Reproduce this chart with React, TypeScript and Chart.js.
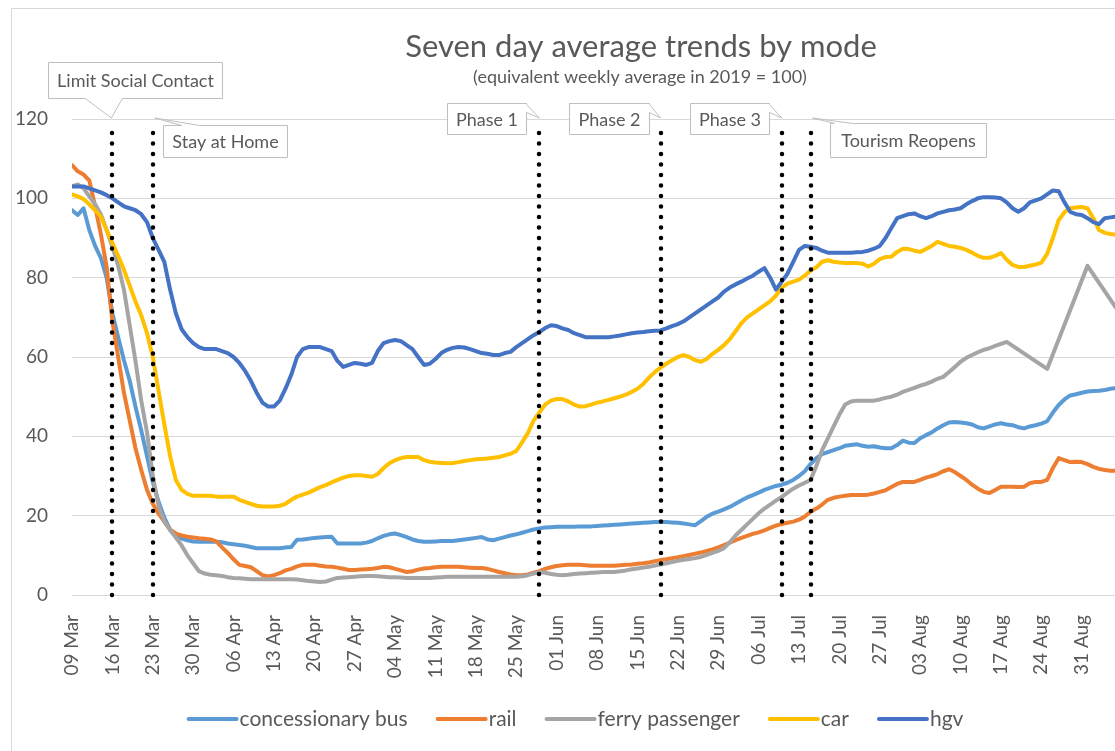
import React, { useEffect, useRef } from 'react';
import { Chart, registerables } from 'chart.js';

Chart.register(...registerables);

// ---------- DATA ----------
// x = days since 09 Mar 2020 (daily seven-day averages, 2019 equivalent week = 100)
const TICK_DAYS = [0, 7, 14, 21, 28, 35, 42, 49, 56, 63, 70, 77, 84, 91, 98, 105, 112, 119, 126, 133, 140, 147, 154, 161, 168, 175];
const TICK_LABELS = ['09 Mar', '16 Mar', '23 Mar', '30 Mar', '06 Apr', '13 Apr', '20 Apr', '27 Apr', '04 May', '11 May', '18 May', '25 May', '01 Jun', '08 Jun', '15 Jun', '22 Jun', '29 Jun', '06 Jul', '13 Jul', '20 Jul', '27 Jul', '03 Aug', '10 Aug', '17 Aug', '24 Aug', '31 Aug'];
const Y_TICKS = [0, 20, 40, 60, 80, 100, 120];

const SERIES_LABELS = ['concessionary bus', 'rail', 'ferry passenger', 'car', 'hgv'];

const BUS = [
  97, 95.8, 97.5, 92, 88, 85, 80,
  71, 65, 59.2, 54, 47.5, 41.5, 35,
  28.5, 23.5, 19.5, 16.4, 15, 14.2, 13.8,
  13.5, 13.4, 13.4, 13.4, 13.4, 13.3, 13,
  12.8, 12.6, 12.4, 12.1, 11.8, 11.8, 11.8,
  11.8, 11.8, 12, 12.1, 13.9, 14, 14.2,
  14.4, 14.5, 14.6, 14.7, 13, 13, 13,
  13, 13, 13.2, 13.6, 14.3, 14.9, 15.3,
  15.5, 15.1, 14.6, 14, 13.6, 13.4, 13.4,
  13.5, 13.6, 13.6, 13.6, 13.8, 14, 14.2,
  14.4, 14.6, 14, 13.8, 14.2, 14.6, 15,
  15.3, 15.7, 16.1, 16.5, 16.8, 17, 17.1,
  17.2, 17.2, 17.2, 17.2, 17.3, 17.3, 17.3,
  17.4, 17.5, 17.6, 17.7, 17.8, 17.9, 18,
  18.1, 18.2, 18.3, 18.4, 18.4, 18.4, 18.3,
  18.2, 18, 17.8, 17.6, 18.6, 19.7, 20.5,
  21, 21.6, 22.2, 23, 23.8, 24.6, 25.2,
  25.8, 26.5, 27, 27.5, 27.8, 28.3, 29,
  30, 31.2, 33, 34.5, 35.5, 36, 36.5,
  37, 37.6, 37.8, 38, 37.6, 37.4, 37.5,
  37.2, 37, 37, 37.8, 38.9, 38.4, 38.3,
  39.5, 40.3, 41, 42, 42.8, 43.5, 43.6,
  43.5, 43.3, 43, 42.3, 42, 42.5, 43,
  43.3, 43, 42.8, 42.3, 42, 42.5, 42.8,
  43.2, 43.8, 46, 47.9, 49.3, 50.3, 50.6,
  51, 51.3, 51.4, 51.5, 51.7, 52, 52.2,
  52.2,
];

const RAIL = [
  108.4, 106.8, 106, 104.5, 98, 91, 82.7,
  69, 60, 51, 44, 37, 31.5, 26.5,
  23, 20.5, 18.5, 16.5, 15.5, 15, 14.7,
  14.5, 14.3, 14.2, 14, 13.5, 12, 10.6,
  9, 7.6, 7.3, 7, 6, 5, 4.7,
  5, 5.5, 6.2, 6.6, 7.2, 7.6, 7.6,
  7.6, 7.4, 7.2, 7.1, 6.9, 6.6, 6.3,
  6.3, 6.4, 6.5, 6.6, 6.8, 7.1, 7,
  6.6, 6.2, 5.8, 6, 6.4, 6.7, 6.8,
  7, 7.1, 7.1, 7.1, 7.1, 7, 6.9,
  6.8, 6.8, 6.6, 6.2, 5.8, 5.5, 5.2,
  5, 5, 5.2, 5.6, 6, 6.6, 7,
  7.3, 7.5, 7.6, 7.6, 7.6, 7.5, 7.4,
  7.4, 7.4, 7.4, 7.4, 7.5, 7.6, 7.7,
  7.9, 8, 8.2, 8.5, 8.8, 9, 9.3,
  9.5, 9.8, 10.1, 10.4, 10.7, 11.1, 11.5,
  12, 12.6, 13.2, 13.8, 14.4, 14.9, 15.4,
  15.8, 16.3, 16.9, 17.5, 17.9, 18.2, 18.5,
  19, 19.8, 21, 21.8, 22.8, 24, 24.5,
  24.8, 25, 25.2, 25.2, 25.2, 25.3, 25.6,
  26, 26.4, 27.2, 28, 28.5, 28.5, 28.5,
  29, 29.6, 30, 30.5, 31.2, 31.7, 31,
  30, 29, 27.8, 26.8, 26, 25.7, 26.5,
  27.3, 27.3, 27.3, 27.2, 27.3, 28.2, 28.5,
  28.5, 29, 32, 34.5, 34, 33.5, 33.6,
  33.5, 33, 32.3, 31.8, 31.5, 31.3, 31.3,
  31.2,
];

const FERRY = [
  103, 103.5, 102.5, 100.5, 98.5, 96, 92,
  87.8, 83, 77, 68, 59, 49, 41,
  30, 22.5, 18.5, 16.4, 14.5, 12.5, 10,
  8, 6, 5.4, 5.1, 5, 4.8, 4.5,
  4.3, 4.2, 4.1, 4, 4, 4, 4,
  4, 4, 4, 4, 3.9, 3.7, 3.5,
  3.4, 3.3, 3.4, 3.9, 4.3, 4.4, 4.5,
  4.6, 4.7, 4.8, 4.8, 4.7, 4.6, 4.5,
  4.5, 4.4, 4.3, 4.3, 4.3, 4.3, 4.3,
  4.4, 4.5, 4.6, 4.6, 4.6, 4.6, 4.6,
  4.6, 4.6, 4.6, 4.6, 4.6, 4.6, 4.6,
  4.6, 4.7, 5, 5.4, 5.8, 5.6, 5.3,
  5.1, 5, 5.1, 5.3, 5.4, 5.5, 5.6,
  5.7, 5.8, 5.8, 5.8, 6, 6.2, 6.5,
  6.7, 6.9, 7.1, 7.4, 7.7, 8, 8.3,
  8.6, 8.9, 9.1, 9.3, 9.6, 10.1, 10.6,
  11.1, 11.8, 13.3, 15, 16.4, 17.8, 19.2,
  20.6, 21.8, 22.8, 23.8, 24.7, 25.8, 26.8,
  27.6, 28.3, 29, 32.5, 36.5, 39.5, 42.5,
  45.5, 48, 48.8, 49, 49, 49, 49,
  49.3, 49.7, 50, 50.5, 51.2, 51.7, 52.2,
  52.8, 53.2, 53.8, 54.5, 55, 56.2, 57.5,
  58.8, 59.8, 60.5, 61.2, 61.8, 62.2, 62.8,
  63.3, 63.8, null, null, null, null, null,
  null, 57, null, null, null, null, null,
  null, 83, null, null, null, null, null,
  null, 68,
];

const CAR = [
  101, 100.5, 99.8, 98.5, 97, 95.4, 92,
  88.7, 85.5, 82, 78, 74, 70.5, 66,
  60, 51.5, 43, 35, 29, 26.5, 25.5,
  25, 25, 25, 25, 24.8, 24.8, 24.8,
  24.8, 24, 23.5, 23, 22.5, 22.3, 22.3,
  22.3, 22.5, 23, 24, 24.8, 25.3, 25.8,
  26.5, 27.2, 27.7, 28.4, 29, 29.6, 30,
  30.2, 30.2, 30, 29.8, 30.5, 32, 33.2,
  34, 34.5, 34.8, 34.8, 34.8, 34, 33.6,
  33.4, 33.3, 33.2, 33.3, 33.5, 33.8, 34,
  34.2, 34.3, 34.4, 34.6, 34.8, 35.2, 35.6,
  36.3, 38.5, 40.8, 44, 46, 48, 49,
  49.4, 49.4, 48.8, 48, 47.5, 47.6, 48,
  48.5, 48.8, 49.2, 49.6, 50, 50.5, 51.2,
  52, 53.2, 54.8, 56.2, 57.3, 58.3, 59.2,
  60, 60.5, 60, 59.2, 58.8, 59.5, 60.8,
  61.8, 63, 64.5, 66.5, 68.5, 70, 71,
  72, 73, 74, 75.5, 77.5, 78.5, 79,
  79.5, 80.5, 81.8, 82.6, 84, 84.4, 84,
  83.8, 83.7, 83.7, 83.7, 83.5, 82.8, 83.5,
  84.7, 85.2, 85.3, 86.5, 87.3, 87.2, 86.8,
  86.5, 87.2, 88, 89, 88.5, 88, 87.8,
  87.5, 87, 86.3, 85.5, 85, 85, 85.5,
  86.2, 84.5, 83.2, 82.7, 82.7, 83, 83.3,
  83.8, 86, 90, 94.5, 96.5, 97.5, 97.7,
  97.8, 97.5, 95, 92, 91.3, 91, 90.8,
  90.8,
];

const HGV = [
  103, 103, 103, 102.5, 102, 101.5, 100.8,
  100, 99, 98, 97.5, 97, 96, 94,
  90, 87, 84, 77, 71, 67, 65,
  63.5, 62.5, 62, 62, 62, 61.5, 61,
  60, 58.5, 56.5, 54, 51, 48.5, 47.5,
  47.5, 49, 52, 55.5, 60, 62, 62.5,
  62.5, 62.5, 62, 61.5, 59, 57.5, 58,
  58.5, 58.3, 58, 58.5, 61.5, 63.5, 64,
  64.3, 64, 63, 62, 60, 58, 58.3,
  59.5, 61, 61.8, 62.3, 62.5, 62.4, 62,
  61.5, 61, 60.8, 60.5, 60.5, 61, 61.3,
  62.5, 63.5, 64.5, 65.5, 66.3, 67.3, 68,
  67.8, 67.2, 66.8, 66, 65.5, 65, 65,
  65, 65, 65, 65.2, 65.4, 65.7, 66,
  66.2, 66.3, 66.5, 66.6, 66.7, 67.2, 67.8,
  68.3, 69, 70, 71, 72, 73, 74,
  75, 76.5, 77.5, 78.3, 79, 79.8, 80.5,
  81.5, 82.4, 80, 77, 79, 81, 84,
  87, 88, 87.8, 87.5, 86.8, 86.3, 86.3,
  86.3, 86.3, 86.3, 86.4, 86.5, 86.8, 87.3,
  88, 90, 92.5, 95, 95.5, 96, 96.2,
  95.5, 95, 95.5, 96.2, 96.6, 97, 97.2,
  97.5, 98.5, 99.3, 100, 100.3, 100.3, 100.2,
  100, 99, 97.5, 96.6, 97.5, 99, 99.5,
  100, 101, 102, 101.8, 99, 96.6, 96,
  95.8, 95, 94, 93.5, 95, 95.2, 95.4,
  95.5,
];

// policy events (day index since 09 Mar)
const EVENT_LABELS = ['Limit Social Contact', 'Stay at Home', 'Phase 1', 'Phase 2', 'Phase 3', 'Tourism Reopens'];
const EVENT_DAYS = [7, 14, 81, 102, 123, 128];

const TITLE = 'Seven day average trends by mode';
const SUBTITLE = '(equivalent weekly average in 2019 = 100)';

// ---------- STYLE / LAYOUT ----------
const COLORS = ['#5B9BD5', '#ED7D31', '#A5A5A5', '#FFC000', '#4472C4'];
const TEXT = '#595959';
const FONT = 'Lato, "Open Sans", sans-serif';
const CANVAS_W = 1200;
const CANVAS_H = 760;
const PX_PER_DAY = 5.77;
const Y_AXIS_W = 60;
const X_AXIS_H = 90;
const PLOT_TOP = 110;
const PLOT_BOTTOM = 586;

// callout boxes relative to event line x / plot top
const CALLOUTS = [
  { dx: -64, dy: -57, w: 174, h: 36, wedge: 'bottom', a: -27, b: 10, tipDx: -1 },
  { dx: 10, dy: 6, w: 124, h: 32, wedge: 'top', a: 29, b: 47, tipDx: 2 },
  { dx: -92, dy: -16, w: 79, h: 31, wedge: 'right', a: 1, b: 9, tipDx: 0 },
  { dx: -92, dy: -16, w: 80, h: 31, wedge: 'right', a: 1, b: 9, tipDx: 0 },
  { dx: -92, dy: -16, w: 79, h: 31, wedge: 'right', a: 1, b: 9, tipDx: 0 },
  { dx: 19, dy: 4, w: 156, h: 34, wedge: 'top', a: 24, b: 42, tipDx: 2 },
];

const overlayPlugin = {
  id: 'overlay',
  afterDatasetsDraw(chart: any) {
    const { ctx, chartArea, scales } = chart;
    const xs = scales.x;
    // dotted event lines
    ctx.save();
    ctx.strokeStyle = '#000';
    ctx.lineWidth = 4.5;
    ctx.lineCap = 'round';
    ctx.setLineDash([0, 10.5]);
    EVENT_DAYS.forEach((d) => {
      const x = Math.round(xs.getPixelForValue(d));
      ctx.beginPath();
      ctx.moveTo(x, chartArea.bottom);
      ctx.lineTo(x, chartArea.top + 10);
      ctx.stroke();
    });
    ctx.restore();

    // callouts
    ctx.save();
    ctx.font = `18px ${FONT}`;
    ctx.textAlign = 'center';
    ctx.textBaseline = 'middle';
    EVENT_DAYS.forEach((d, i) => {
      const c = CALLOUTS[i];
      const lx = xs.getPixelForValue(d);
      const L = Math.round(lx + c.dx) + 0.5;
      const T = Math.round(chartArea.top + c.dy) + 0.5;
      const R = L + c.w;
      const B = T + c.h;
      const tx = lx + c.tipDx;
      const ty = chartArea.top - 1;
      ctx.beginPath();
      if (c.wedge === 'bottom') {
        ctx.moveTo(L, T); ctx.lineTo(R, T); ctx.lineTo(R, B);
        ctx.lineTo(lx + c.b, B); ctx.lineTo(tx, ty); ctx.lineTo(lx + c.a, B);
        ctx.lineTo(L, B); ctx.closePath();
      } else if (c.wedge === 'top') {
        ctx.moveTo(L, T); ctx.lineTo(lx + c.a, T); ctx.lineTo(tx, ty); ctx.lineTo(lx + c.b, T);
        ctx.lineTo(R, T); ctx.lineTo(R, B); ctx.lineTo(L, B); ctx.closePath();
      } else {
        ctx.moveTo(L, T); ctx.lineTo(R, T); ctx.lineTo(R, T + c.a); ctx.lineTo(tx, ty);
        ctx.lineTo(R, T + c.b); ctx.lineTo(R, B); ctx.lineTo(L, B); ctx.closePath();
      }
      ctx.fillStyle = '#ffffff';
      ctx.fill();
      ctx.strokeStyle = '#BFBFBF';
      ctx.lineWidth = 1;
      ctx.stroke();
      ctx.fillStyle = TEXT;
      ctx.fillText(EVENT_LABELS[i], (L + R) / 2, (T + B) / 2 + 1);
    });
    ctx.restore();
  },
  afterDraw(chart: any) {
    const { ctx } = chart;
    ctx.save();
    // title + subtitle
    ctx.fillStyle = TEXT;
    ctx.textAlign = 'center';
    ctx.textBaseline = 'middle';
    ctx.font = `31px ${FONT}`;
    ctx.fillText(TITLE, 629, 38);
    ctx.font = `18px ${FONT}`;
    ctx.fillText(SUBTITLE, 628, 68);

    // legend
    ctx.font = `21px ${FONT}`;
    const items = chart.data.datasets.map((ds: any) => ({
      label: ds.label,
      color: ds.borderColor,
      w: ctx.measureText(ds.label).width,
    }));
    const lineLen = 52;
    const gap = 28;
    const total = items.reduce((s: number, it: any) => s + lineLen + 1 + it.w, 0) + gap * (items.length - 1);
    let x = 563 - total / 2;
    const y = 710;
    ctx.textAlign = 'left';
    items.forEach((it: any) => {
      ctx.strokeStyle = it.color;
      ctx.lineWidth = 4;
      ctx.lineCap = 'round';
      ctx.beginPath();
      ctx.moveTo(x + 2, y);
      ctx.lineTo(x + lineLen - 2, y);
      ctx.stroke();
      ctx.fillStyle = TEXT;
      ctx.fillText(it.label, x + lineLen + 1, y);
      x += lineLen + 1 + it.w + gap;
    });
    ctx.restore();
  },
};

const toPoints = (arr: (number | null)[]) => arr.map((v, i) => ({ x: i, y: v }));

export default function App() {
  const ref = useRef<HTMLCanvasElement | null>(null);

  useEffect(() => {
    let chart: Chart | null = null;
    let cancelled = false;
    const make = () => {
      if (cancelled || !ref.current) return;
      const series = [BUS, RAIL, FERRY, CAR, HGV];
      const plotW = CANVAS_W - Y_AXIS_W;
      chart = new Chart(ref.current, {
        type: 'line',
        data: {
          datasets: series.map((s, i) => ({
            label: SERIES_LABELS[i],
            data: toPoints(s) as any,
            borderColor: COLORS[i],
            backgroundColor: COLORS[i],
            borderWidth: 4,
            pointRadius: 0,
            tension: 0,
            borderJoinStyle: 'round' as const,
            borderCapStyle: 'round' as const,
            spanGaps: true,
            order: 5 - i,
          })),
        },
        options: {
          animation: false,
          responsive: false,
          devicePixelRatio: 1,
          layout: { padding: { top: PLOT_TOP, right: 0, left: 0, bottom: CANVAS_H - PLOT_BOTTOM - X_AXIS_H } },
          plugins: { legend: { display: false }, title: { display: false }, tooltip: { enabled: false } },
          scales: {
            x: {
              type: 'linear',
              min: 0,
              max: plotW / PX_PER_DAY,
              grid: { display: false },
              border: { display: false },
              afterBuildTicks: (s: any) => { s.ticks = TICK_DAYS.map((v) => ({ value: v })); },
              afterFit: (s: any) => { s.height = X_AXIS_H; },
              ticks: {
                autoSkip: false,
                minRotation: 90,
                maxRotation: 90,
                padding: 12,
                color: TEXT,
                font: { family: FONT, size: 19 },
                callback: (_v: any, idx: number) => TICK_LABELS[idx],
              },
            },
            y: {
              min: 0,
              max: 120,
              afterBuildTicks: (s: any) => { s.ticks = Y_TICKS.map((v) => ({ value: v })); },
              afterFit: (s: any) => { s.width = Y_AXIS_W; },
              grid: { color: '#D9D9D9', lineWidth: 1, drawTicks: false },
              border: { display: false },
              ticks: { padding: 24, color: TEXT, font: { family: FONT, size: 19 } },
            },
          },
        },
        plugins: [overlayPlugin],
      });
    };
    const fonts = (document as any).fonts;
    if (fonts && fonts.load) {
      Promise.all([fonts.load(`19px Lato`), fonts.load(`31px Lato`)]).then(make, make);
    } else {
      make();
    }
    return () => {
      cancelled = true;
      if (chart) chart.destroy();
    };
  }, []);

  return (
    <div style={{ position: 'fixed', left: 0, top: 0, width: 1115, height: 751, overflow: 'hidden', background: '#fff' }}>
      <div
        style={{
          position: 'absolute',
          left: 11,
          top: 8,
          width: CANVAS_W + 2,
          height: CANVAS_H + 2,
          border: '1px solid #D9D9D9',
          boxSizing: 'border-box',
        }}
      >
        <canvas
          ref={ref}
          width={CANVAS_W}
          height={CANVAS_H}
          style={{ position: 'absolute', left: 0, top: 0, width: CANVAS_W, height: CANVAS_H }}
        />
      </div>
    </div>
  );
}
